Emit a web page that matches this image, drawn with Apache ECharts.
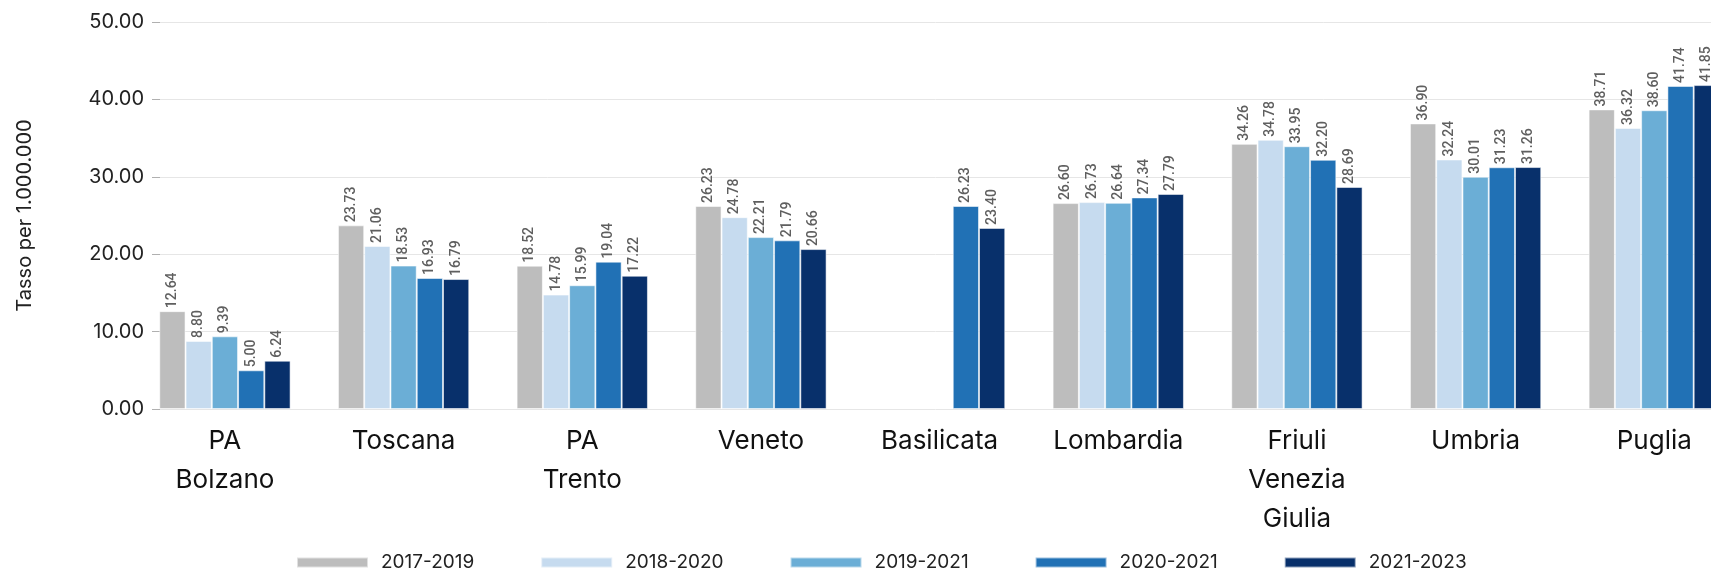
<!DOCTYPE html>
<html>
<head>
<meta charset="utf-8">
<script src="https://cdn.jsdelivr.net/npm/echarts@6/dist/echarts.min.js"></script>
<style>
  html, body { margin: 0; padding: 0; background: #fff; }
  #chart { width: 1711px; height: 576px; }
</style>
</head>
<body>
<div id="chart"></div>
<script>
// Regions (space-separated words are stacked on separate lines)
const categories = ['PA Bolzano', 'Toscana', 'PA Trento', 'Veneto', 'Basilicata', 'Lombardia', 'Friuli Venezia Giulia', 'Umbria', 'Puglia'];

// Rates per 1,000,000 for each period
const s2017_2019 = [12.64, 23.73, 18.52, 26.23, null, 26.60, 34.26, 36.90, 38.71];
const s2018_2020 = [8.80, 21.06, 14.78, 24.78, null, 26.73, 34.78, 32.24, 36.32];
const s2019_2021 = [9.39, 18.53, 15.99, 22.21, null, 26.64, 33.95, 30.01, 38.60];
const s2020_2021 = [5.00, 16.93, 19.04, 21.79, 26.23, 27.34, 32.20, 31.23, 41.74];
const s2021_2023 = [6.24, 16.79, 17.22, 20.66, 23.40, 27.79, 28.69, 31.26, 41.85];

const seriesNames = ['2017-2019', '2018-2020', '2019-2021', '2020-2021', '2021-2023'];
const seriesData = [s2017_2019, s2018_2020, s2019_2021, s2020_2021, s2021_2023];
const colors = ['#bdbdbd', '#c6dbef', '#6baed6', '#2171b5', '#08306b'];

const yMin = 0, yMax = 50, yStep = 10;

const chart = echarts.init(document.getElementById('chart'));

const series = seriesNames.map((name, i) => ({
  name: name,
  type: 'bar',
  xAxisIndex: 1,
  yAxisIndex: 1,
  data: seriesData[i],
  barGap: '0%',
  barCategoryGap: '26.5%',
  itemStyle: { color: colors[i], borderColor: 'rgba(255,255,255,0.55)', borderWidth: 1 },
  label: {
    show: true,
    position: 'top',
    rotate: 90,
    align: 'left',
    verticalAlign: 'middle',
    distance: 3,
    fontFamily: 'Roboto',
    fontWeight: 500,
    fontSize: 14,
    color: '#5f5f5f',
    formatter: p => p.value == null ? '' : Number(p.value).toFixed(2)
  },
  emphasis: { disabled: true }
}));

chart.setOption({
  animation: false,
  color: colors,
  textStyle: { fontFamily: 'Inter' },
  legend: {
    data: seriesNames,
    left: 291,
    top: 548,
    itemWidth: 71,
    itemHeight: 10,
    itemGap: 66,
    icon: 'rect',
    textStyle: {
      fontFamily: 'Inter',
      fontSize: 19,
      color: '#222',
      width: 94,
      padding: [0, 0, 0, 8]
    }
  },
  grid: [
    // axis frame: value labels, ticks and horizontal grid lines
    { left: 160, right: 0, top: 22, bottom: 167, outerBoundsMode: 'none' },
    // bars; the last group runs past the right edge
    { left: 135.6, width: 1608, top: 22, bottom: 167, outerBoundsMode: 'none' }
  ],
  xAxis: [
    { gridIndex: 0, type: 'value', show: false },
    {
      gridIndex: 1,
      type: 'category',
      data: categories,
      axisLine: { show: false },
      axisTick: { show: false },
      axisLabel: {
        interval: 0,
        margin: 13,
        fontFamily: 'Inter',
        fontSize: 26,
        lineHeight: 39,
        color: '#111',
        formatter: v => v.split(' ').join('\n')
      }
    }
  ],
  yAxis: [
    {
      gridIndex: 0,
      type: 'value',
      min: yMin,
      max: yMax,
      interval: yStep,
      name: 'Tasso per 1.000.000',
      nameLocation: 'middle',
      nameGap: 125,
      nameTextStyle: { fontFamily: 'Inter', fontSize: 20, color: '#222' },
      axisLine: { show: false },
      axisTick: { show: true, length: 8, lineStyle: { color: '#b0b0b0' } },
      axisLabel: {
        margin: 16,
        fontFamily: 'Inter',
        fontSize: 20,
        color: '#222',
        formatter: v => v.toFixed(2)
      },
      splitLine: { show: true, lineStyle: { color: '#e6e6e6', width: 1 } }
    },
    { gridIndex: 1, type: 'value', min: yMin, max: yMax, interval: yStep, show: false }
  ],
  series: series
});
</script>
</body>
</html>
